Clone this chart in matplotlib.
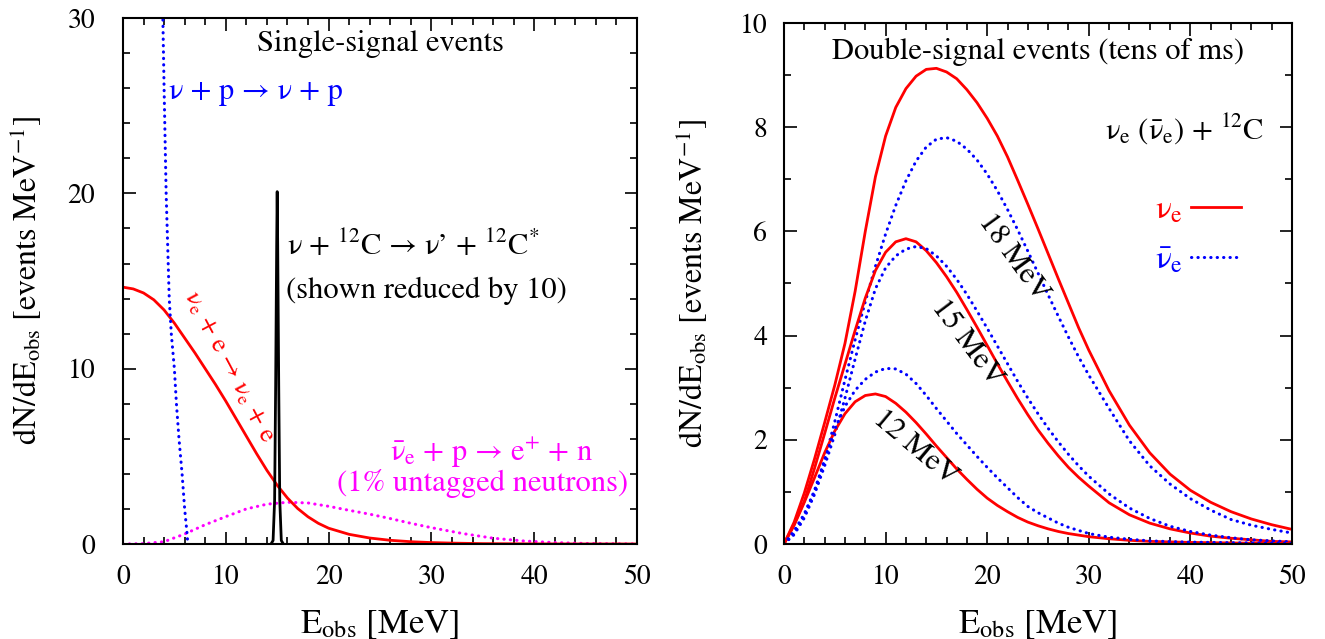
import numpy as np
import matplotlib
matplotlib.use("Agg")
from matplotlib import pyplot as plt
from matplotlib.ticker import MultipleLocator

plt.rcParams["font.family"] = ["STIXGeneral", "DejaVu Serif"]
plt.rcParams["mathtext.fontset"] = "stix"

RED, BLUE, MAG = "#ff0000", "#0000ff", "#ff00ff"
DOT = (0, (0.1, 2.0))

# ---- left panel: single-signal events ----
# nu + p -> nu + p
nup_x = [3.85, 4.0, 4.2, 4.4, 4.5, 4.7, 5.0, 5.2, 5.45, 5.75, 6.0, 6.25, 6.3]
nup_y = [31.0, 26.0, 20.0, 16.0, 14.0, 12.0, 10.0, 8.0, 6.0, 4.0, 2.0, 0.5, 0.0]
# nu_e + e -> nu_e + e
nue_x = [0, 1, 2, 3, 4, 5, 6, 7, 8, 9, 10, 11, 12, 13, 14, 15, 16, 17, 18, 19, 20,
         22, 24, 26, 28, 30, 32, 35, 40, 45, 50]
nue_y = [14.65, 14.55, 14.32, 13.93, 13.35, 12.6, 11.75, 10.9, 10.0, 9.1, 8.15, 7.15,
         6.15, 5.15, 4.2, 3.35, 2.62, 2.02, 1.55, 1.18, 0.9, 0.55, 0.34, 0.21, 0.13,
         0.08, 0.05, 0.02, 0.005, 0.0, 0.0]
# nu + 12C -> nu' + 12C* (line, reduced by 10)
c12_x = [14.4, 14.6, 14.75, 14.85, 14.95, 15.0, 15.05, 15.15, 15.25, 15.4, 15.6]
c12_y = [0.0, 0.2, 2.5, 9.0, 17.0, 20.1, 17.0, 9.0, 2.5, 0.2, 0.0]
# anti-nu_e + p (1% untagged)
ibd_x = [0, 2, 4, 6, 8, 10, 12, 14, 16, 18, 20, 22, 24, 26, 28, 30, 33, 36, 39, 42,
         45, 48, 50]
ibd_y = [0.0, 0.02, 0.13, 0.57, 1.1, 1.56, 2.0, 2.27, 2.38, 2.34, 2.15, 1.92, 1.7,
         1.45, 1.18, 0.93, 0.6, 0.33, 0.17, 0.08, 0.03, 0.01, 0.0]

# ---- right panel: double-signal events, nu_e (anti-nu_e) + 12C ----
E = [0, 1, 2, 3, 4, 5, 6, 7, 8, 9, 10, 11, 12, 13, 14, 15, 16, 17, 18, 19, 20,
     21, 22, 23, 24, 25, 26, 27, 28, 29, 30, 32, 34, 36, 38, 40, 42, 44, 46, 48, 50]
red18 = [0, 0.42, 0.98, 1.63, 2.33, 3.05, 3.85, 4.85, 6.0, 7.05, 7.83, 8.38, 8.74,
         8.98, 9.11, 9.13, 9.06, 8.93, 8.72, 8.47, 8.17, 7.83, 7.43, 6.98, 6.52,
         6.05, 5.57, 5.09, 4.62, 4.15, 3.72, 2.94, 2.28, 1.75, 1.34, 1.03, 0.8,
         0.62, 0.48, 0.37, 0.28]
blue18 = [0, 0.2, 0.55, 1.02, 1.6, 2.35, 3.15, 3.92, 4.65, 5.33, 5.95, 6.5, 6.97,
          7.35, 7.62, 7.77, 7.8, 7.73, 7.58, 7.37, 7.1, 6.78, 6.42, 6.03, 5.62,
          5.2, 4.78, 4.37, 3.97, 3.59, 3.24, 2.6, 1.98, 1.5, 1.15, 0.87, 0.65,
          0.47, 0.36, 0.28, 0.21]
red15 = [0, 0.38, 0.82, 1.45, 2.12, 2.8, 3.45, 4.1, 4.72, 5.25, 5.6, 5.8, 5.86,
         5.8, 5.63, 5.4, 5.13, 4.83, 4.5, 4.16, 3.81, 3.46, 3.12, 2.79, 2.48, 2.19,
         1.93, 1.69, 1.47, 1.28, 1.11, 0.79, 0.56, 0.4, 0.29, 0.21, 0.15, 0.11,
         0.08, 0.05, 0.04]
blue15 = [0, 0.18, 0.5, 0.95, 1.5, 2.1, 2.8, 3.55, 4.28, 4.9, 5.3, 5.53, 5.66,
          5.71, 5.67, 5.53, 5.33, 5.08, 4.79, 4.47, 4.14, 3.8, 3.46, 3.12, 2.8, 2.5,
          2.22, 1.96, 1.72, 1.5, 1.3, 0.96, 0.69, 0.49, 0.34, 0.24, 0.17, 0.12,
          0.08, 0.06, 0.04]
red12 = [0, 0.36, 0.8, 1.27, 1.75, 2.17, 2.5, 2.73, 2.85, 2.88, 2.83, 2.7, 2.53,
         2.33, 2.11, 1.88, 1.66, 1.44, 1.24, 1.05, 0.88, 0.74, 0.62, 0.51, 0.42,
         0.35, 0.29, 0.24, 0.2, 0.17, 0.14, 0.1, 0.07, 0.05, 0.04, 0.03, 0.025,
         0.02, 0.015, 0.012, 0.01]
blue12 = [0, 0.25, 0.58, 1.02, 1.62, 2.2, 2.64, 2.95, 3.16, 3.3, 3.37, 3.36, 3.26,
          3.08, 2.85, 2.6, 2.36, 2.12, 1.9, 1.68, 1.47, 1.27, 1.08, 0.89, 0.72,
          0.6, 0.5, 0.4, 0.32, 0.26, 0.2, 0.13, 0.09, 0.06, 0.045, 0.035, 0.03,
          0.025, 0.02, 0.017, 0.015]

fig = plt.figure(figsize=(13.25, 6.39), dpi=100)
ax1 = fig.add_axes([0.0928, 0.1487, 0.388, 0.823])
ax2 = fig.add_axes([0.5917, 0.1487, 0.3834, 0.8153])

FS = 20    # tick labels
LFS = 25   # axis labels
TFS = 22   # texts inside the panels

for ax in (ax1, ax2):
    ax.set_xlim(0, 50)
    ax.xaxis.set_major_locator(MultipleLocator(10))
    ax.xaxis.set_minor_locator(MultipleLocator(2))
    ax.tick_params(which="both", direction="in", top=True, right=True,
                   labelsize=FS, width=1.2)
    ax.tick_params(which="major", length=9)
    ax.tick_params(which="minor", length=5)
    ax.tick_params(axis="x", which="major", pad=15)
    for s in ax.spines.values():
        s.set_linewidth(1.5)
    ax.set_xlabel("E$_{\\rm obs}$ [MeV]", fontsize=LFS, labelpad=13)

ax1.tick_params(axis="y", which="major", pad=20)
ax2.tick_params(axis="y", which="major", pad=12)
ax1.set_ylabel("dN/dE$_{\\rm obs}$ [events MeV$^{-1}$]", fontsize=LFS - 2,
               labelpad=17)
ax2.set_ylabel("dN/dE$_{\\rm obs}$ [events MeV$^{-1}$]", fontsize=LFS - 2,
               labelpad=21)

# left panel
ax1.set_ylim(0, 30)
ax1.yaxis.set_major_locator(MultipleLocator(10))
ax1.yaxis.set_minor_locator(MultipleLocator(2))
ax1.plot(ibd_x, ibd_y, color=MAG, lw=2.2, ls=DOT, dash_capstyle="round")
ax1.plot(nue_x, nue_y, color=RED, lw=2.0)
ax1.plot(nup_x, nup_y, color=BLUE, lw=2.2, ls=DOT, dash_capstyle="round")
ax1.plot(c12_x, c12_y, color="black", lw=2.0)

ax1.text(25.0, 28.5, "Single-signal events", ha="center", va="center", fontsize=TFS)
ax1.text(4.5, 25.8, "ν + p → ν + p", ha="left", va="center", fontsize=TFS,
         color=BLUE)
ax1.text(16.0, 17.0, "ν + $^{12}$C → ν’ + $^{12}$C$^{*}$", ha="left", va="center",
         fontsize=TFS)
ax1.text(15.9, 14.45, "(shown reduced by 10)", ha="left", va="center", fontsize=TFS)
ax1.text(10.3, 10.1, "ν$_{\\rm e}$ + e → ν$_{\\rm e}$ + e", ha="center", va="center",
         rotation=-62, rotation_mode="anchor", fontsize=TFS - 3, color=RED)
ax1.text(35.9, 5.2, "$\\bar{\\rm ν}_{\\rm e}$ + p → e$^{+}$ + n", ha="center",
         va="center", fontsize=TFS, color=MAG)
ax1.text(35.0, 3.45, "(1% untagged neutrons)", ha="center", va="center",
         fontsize=TFS, color=MAG)

# right panel
ax2.set_ylim(0, 10)
ax2.yaxis.set_major_locator(MultipleLocator(2))
ax2.yaxis.set_minor_locator(MultipleLocator(1))
l_red, = ax2.plot(E, red18, color=RED, lw=2.0)
l_blue, = ax2.plot(E, blue18, color=BLUE, lw=2.2, ls=DOT, dash_capstyle="round")
ax2.plot(E, red15, color=RED, lw=2.0)
ax2.plot(E, blue15, color=BLUE, lw=2.2, ls=DOT, dash_capstyle="round")
ax2.plot(E, red12, color=RED, lw=2.0)
ax2.plot(E, blue12, color=BLUE, lw=2.2, ls=DOT, dash_capstyle="round")

ax2.text(25.0, 9.45, "Double-signal events (tens of ms)", ha="center", va="center",
         fontsize=TFS)
ax2.text(47.3, 7.97, "ν$_{\\rm e}$ ($\\bar{\\rm ν}_{\\rm e}$) + $^{12}$C", ha="right",
         va="center", fontsize=TFS)
ax2.text(22.6, 5.5, "18 MeV", ha="center", va="center", rotation=-54,
         rotation_mode="anchor", fontsize=TFS)
ax2.text(18.0, 3.85, "15 MeV", ha="center", va="center", rotation=-53,
         rotation_mode="anchor", fontsize=TFS)
ax2.text(12.9, 1.84, "12 MeV", ha="center", va="center", rotation=-40,
         rotation_mode="anchor", fontsize=TFS)

ax2.legend([l_red, l_blue], ["ν$_{\\rm e}$", "$\\bar{\\rm ν}_{\\rm e}$"],
           markerfirst=False, frameon=False, loc="upper right",
           bbox_to_anchor=(0.9, 0.67), borderaxespad=0, borderpad=0,
           handlelength=1.5, handletextpad=0.25, labelspacing=0.6,
           fontsize=TFS + 2, labelcolor=[RED, BLUE])

fig.savefig("out.png", dpi=100)
